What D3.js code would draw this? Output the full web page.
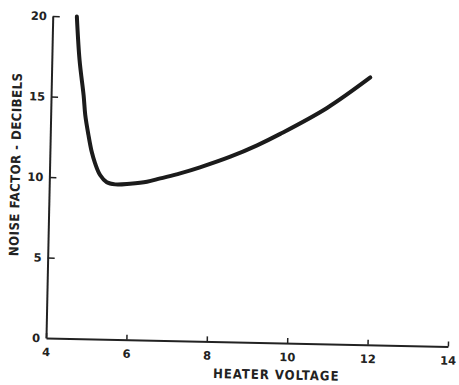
<!DOCTYPE html>
<html>
<head>
<meta charset="utf-8">
<script src="https://cdn.jsdelivr.net/npm/d3@7"></script>
<style>
body { margin: 0; background: #fff; }
svg { display: block; }
</style>
</head>
<body>
<div id="chart"></div>
<script>
// noise factor vs heater voltage
var voltage = [4.60, 4.69, 4.81, 4.86, 4.95, 5.04, 5.13, 5.26, 5.43, 5.64, 6.01, 6.43, 6.76, 7.25, 7.74, 8.49, 9.15, 9.72, 10.87, 11.93];
var noise   = [20.0, 17.3, 15.1, 13.9, 12.66, 11.62, 10.91, 10.19, 9.75, 9.63, 9.69, 9.83, 10.06, 10.4, 10.8, 11.5, 12.24, 12.98, 14.65, 16.6];
var xTicks = [4, 6, 8, 10, 12, 14];
var yTicks = [0, 5, 10, 15, 20];

var margin = {top: 16, right: 11, bottom: 47, left: 46},
    w = 459,
    h = 385;
var width = w - margin.left - margin.right,
    height = h - margin.top - margin.bottom;

var tilt = 1.2; // the scanned page sits slightly askew

var font = "'DejaVu Sans Condensed', 'DejaVu Sans', sans-serif";
var ink = "#222";

var xScale = d3.scaleLinear()
    .domain([4, 14])
    .range([0, width]);

var yScale = d3.scaleLinear()
    .domain([0, 20])
    .range([height, 0]);

var line = d3.line()
    .x(function(d, i) { return xScale(voltage[i]); })
    .y(function(d) { return yScale(d); })
    .curve(d3.curveCatmullRom.alpha(0.5));

var svg = d3.select("#chart")
    .append("svg")
    .attr("width", w)
    .attr("height", h);

var g = svg.append("g")
    .attr("transform", "translate(" + margin.left + "," + margin.top + ") rotate(" + tilt + ",0," + height + ")");

var xAxis = g.append("g")
    .attr("transform", "translate(0," + height + ")")
    .call(d3.axisBottom(xScale).tickValues(xTicks).tickSizeInner(-5).tickSizeOuter(0).tickPadding(10));

var yAxis = g.append("g")
    .call(d3.axisLeft(yScale).tickValues(yTicks).tickSizeInner(-7).tickSizeOuter(0).tickPadding(6));

[xAxis, yAxis].forEach(function(a) {
  a.select(".domain").attr("stroke", ink).attr("stroke-width", 2);
  a.selectAll(".tick line").attr("stroke", ink).attr("stroke-width", 1.5);
  a.selectAll(".tick text")
    .attr("fill", ink)
    .style("font-family", "'DejaVu Sans', sans-serif")
    .style("font-size", "11.5px")
    .style("font-weight", "bold");
});
yAxis.selectAll(".tick").filter(function(d) { return d === 0; }).select("line").remove();

g.append("text")
    .attr("transform", "translate(-34,149) rotate(-90)")
    .attr("text-anchor", "middle")
    .attr("dominant-baseline", "central")
    .attr("fill", ink)
    .style("font-family", font)
    .style("font-size", "13px")
    .style("font-weight", "bold")
    .style("letter-spacing", "0.5px")
    .text("NOISE FACTOR - DECIBELS");

g.append("text")
    .attr("x", 231)
    .attr("y", height + 32)
    .attr("text-anchor", "middle")
    .attr("dominant-baseline", "central")
    .attr("fill", ink)
    .style("font-family", font)
    .style("font-size", "13px")
    .style("font-weight", "bold")
    .style("letter-spacing", "1px")
    .text("HEATER VOLTAGE");

g.append("path")
    .datum(noise)
    .attr("fill", "none")
    .attr("stroke", "#1b1b1b")
    .attr("stroke-width", 4)
    .attr("stroke-linejoin", "round")
    .attr("stroke-linecap", "round")
    .attr("d", line);
</script>
</body>
</html>
